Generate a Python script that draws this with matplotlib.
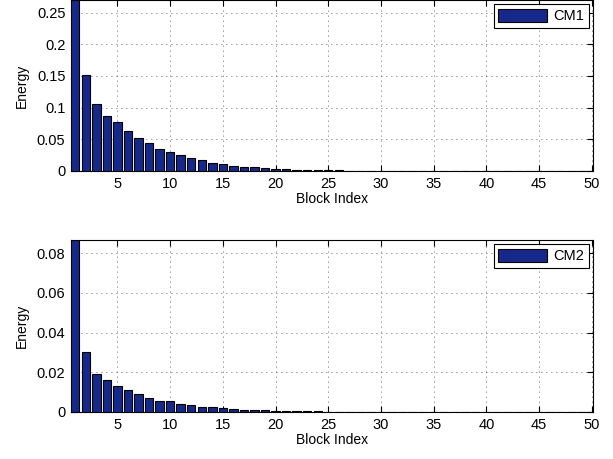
import matplotlib
matplotlib.use("Agg")
import matplotlib.pyplot as plt
import numpy as np
from matplotlib.ticker import FuncFormatter

plt.rcParams["font.family"] = ["Liberation Sans", "DejaVu Sans"]

# Energy per block
block_index = np.arange(1, 51)
cm1_energy = [0.27, 0.151, 0.106, 0.0876, 0.078, 0.0637, 0.0525, 0.0435, 0.035, 0.0303,
              0.025, 0.020, 0.0175, 0.0127, 0.011, 0.0085, 0.0069, 0.0064, 0.0048, 0.0037,
              0.0025, 0.002, 0.0016, 0.0013, 0.001, 0.0008, 0.0006, 0.0005, 0.0004, 0.0003,
              0.0002, 0.0002, 0.0001, 0.0001, 0.0001, 0.0, 0.0, 0.0, 0.0, 0.0,
              0.0, 0.0, 0.0, 0.0, 0.0, 0.0, 0.0, 0.0, 0.0, 0.0]
cm2_energy = [0.0867, 0.0304, 0.0191, 0.0159, 0.0129, 0.0109, 0.0092, 0.0070, 0.0057, 0.0054,
              0.0040, 0.0035, 0.0027, 0.0023, 0.0022, 0.0015, 0.0012, 0.0010, 0.0010, 0.0007,
              0.0005, 0.0004, 0.0003, 0.0003, 0.0002, 0.0002, 0.0001, 0.0001, 0.0001, 0.0,
              0.0, 0.0, 0.0, 0.0, 0.0, 0.0, 0.0, 0.0, 0.0, 0.0,
              0.0, 0.0, 0.0, 0.0, 0.0, 0.0, 0.0, 0.0, 0.0, 0.0]
panels = [
    ("CM1", cm1_energy, 0.27, np.arange(0, 0.26, 0.05)),
    ("CM2", cm2_energy, 0.0867, np.arange(0, 0.081, 0.02)),
]

bar_color = "#15298A"

fig = plt.figure(figsize=(6.13, 4.59), dpi=100)
axes = [fig.add_axes([0.1158, 0.6275, 0.8515, 0.3725]),
        fig.add_axes([0.1158, 0.1024, 0.8515, 0.3747])]

for ax, (name, energy, ytop, yticks) in zip(axes, panels):
    ax.bar(block_index, energy, width=0.8, color=bar_color, edgecolor="black",
           linewidth=0.8, label=name, zorder=3)
    ax.set_xlim(0.6, 50.1)
    ax.set_ylim(0, ytop)
    ax.set_xticks(np.arange(5, 51, 5))
    ax.set_yticks(yticks)
    ax.yaxis.set_major_formatter(FuncFormatter(lambda v, p: f"{v:g}"))
    ax.grid(True, linestyle=(0, (1, 5)), color="#333333", linewidth=0.6, zorder=0)
    ax.tick_params(direction="in", top=True, right=True, labelsize=10.5, length=4, pad=4)
    ax.set_xlabel("Block Index", fontsize=10, labelpad=1)
    ax.set_ylabel("Energy", fontsize=10, labelpad=6)
    leg = ax.legend(loc="upper right", fontsize=10.5, fancybox=False, framealpha=1,
                    edgecolor="black", handlelength=3.4, handleheight=1.0,
                    borderaxespad=0.3, borderpad=0.3, handletextpad=0.4)
    leg.get_frame().set_linewidth(0.8)

fig.savefig("out.png", dpi=100)
